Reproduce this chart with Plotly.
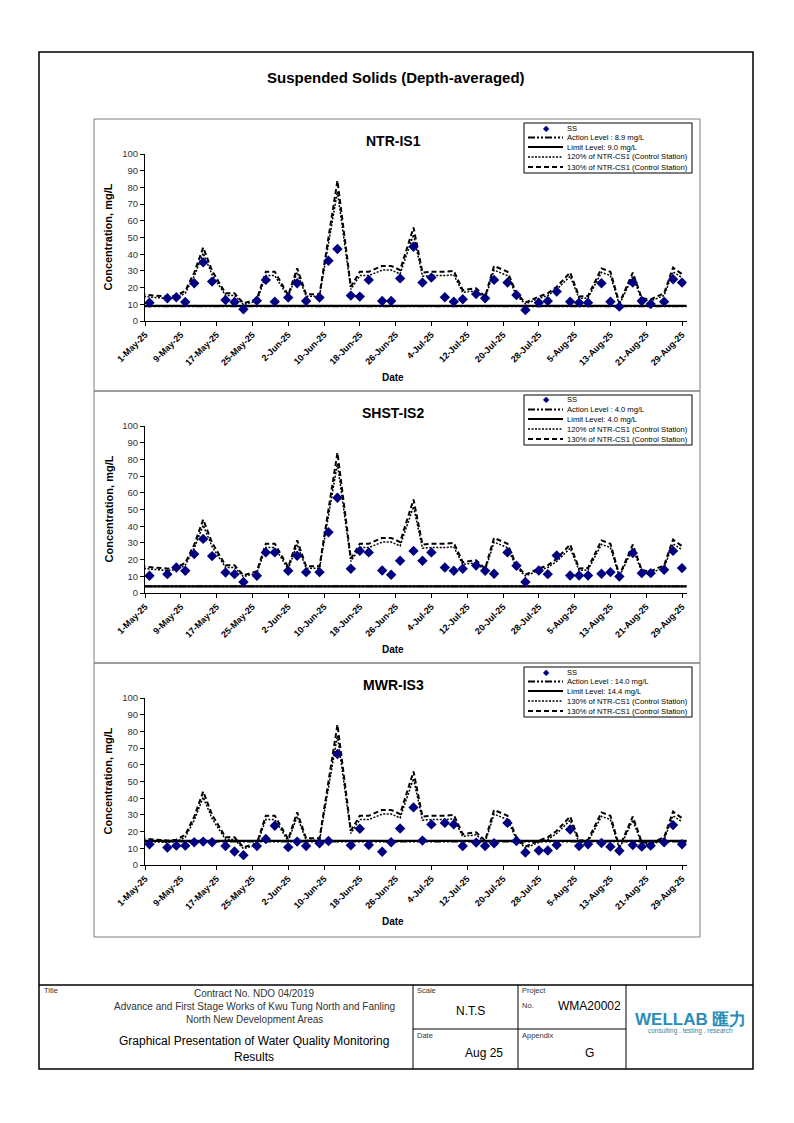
import plotly.graph_objects as go

FONT = "Arial, 'Liberation Sans', sans-serif"

# ---------------- data ----------------
dates = [
    "2025-05-02", "2025-05-06", "2025-05-08", "2025-05-10", "2025-05-12", "2025-05-14", "2025-05-16",
    "2025-05-19", "2025-05-21", "2025-05-23", "2025-05-26", "2025-05-28", "2025-05-30",
    "2025-06-02", "2025-06-04", "2025-06-06", "2025-06-09", "2025-06-11", "2025-06-13", "2025-06-16",
    "2025-06-18", "2025-06-20", "2025-06-23", "2025-06-25", "2025-06-27", "2025-06-30",
    "2025-07-02", "2025-07-04", "2025-07-07", "2025-07-09", "2025-07-11", "2025-07-14", "2025-07-16",
    "2025-07-18", "2025-07-21", "2025-07-23", "2025-07-25", "2025-07-28", "2025-07-30",
    "2025-08-01", "2025-08-04", "2025-08-06", "2025-08-08", "2025-08-11", "2025-08-13", "2025-08-15",
    "2025-08-18", "2025-08-20", "2025-08-22", "2025-08-25", "2025-08-27", "2025-08-29",
]
ctrl_dates = ["2025-04-30"] + dates

ss_ntr_is1 = [
    11.0, 13.6, 14.2, 11.4, 22.6, 35.1, 23.6, 12.6, 11.4, 7.0, 12.2, 24.6, 11.6,
    14.0, 22.6, 12.0, 14.0, 36.1, 43.1, 15.2, 14.6, 24.6, 12.0, 12.0, 25.5, 44.5,
    23.0, 26.0, 14.2, 11.6, 13.0, 16.2, 13.6, 24.6, 23.0, 15.6, 6.6, 11.0, 12.0,
    17.6, 11.6, 11.0, 11.0, 22.6, 11.6, 8.6, 23.0, 12.0, 10.2, 11.6, 25.0, 23.0,
]
ss_shst_is2 = [
    10.3, 11.3, 15.3, 13.3, 23.3, 32.4, 22.1, 12.3, 11.3, 6.6, 10.3, 24.3, 24.3,
    13.3, 22.3, 12.5, 12.5, 36.4, 57.0, 14.5, 25.2, 24.3, 13.5, 10.9, 19.3, 25.2,
    19.3, 24.3, 15.3, 13.3, 14.5, 16.5, 13.3, 11.5, 24.3, 16.3, 6.6, 13.5, 11.3,
    22.5, 10.5, 10.5, 10.5, 11.5, 12.5, 9.9, 23.9, 11.9, 11.9, 13.9, 25.2, 14.9,
]
ss_mwr_is3 = [
    12.4, 10.5, 11.6, 11.6, 13.6, 14.0, 13.6, 11.4, 8.1, 5.9, 11.4, 15.6, 23.5,
    10.7, 14.0, 11.4, 13.0, 14.4, 66.5, 11.8, 21.7, 12.0, 7.9, 13.6, 21.9, 34.5,
    14.6, 24.3, 25.2, 24.3, 11.4, 13.4, 11.4, 13.0, 25.2, 14.4, 7.5, 8.7, 8.7,
    12.0, 21.3, 11.4, 12.4, 13.2, 11.0, 8.5, 12.0, 11.0, 11.6, 13.6, 23.9, 12.4,
]
ctrl_120 = [
    14.8,
    14.4, 13.5, 14.0, 16.6, 26.8, 40.6, 27.7, 15.3, 15.3, 9.8, 12.0, 27.2, 27.2,
    14.3, 29.1, 14.8, 14.8, 46.2, 77.5, 18.9, 27.2, 27.2, 30.5, 30.5, 28.2, 51.7,
    26.8, 27.2, 27.2, 27.7, 17.1, 18.1, 13.5, 30.5, 27.2, 15.3, 10.2, 13.5, 15.3,
    18.9, 26.8, 13.5, 13.8, 29.1, 27.2, 9.8, 26.8, 12.6, 12.0, 15.3, 29.5, 25.8,
]
ctrl_130 = [
    16.0,
    15.6, 14.6, 15.2, 18.0, 29.0, 44.0, 30.0, 16.6, 16.6, 10.6, 13.0, 29.5, 29.5,
    15.5, 31.5, 16.0, 16.0, 50.0, 84.0, 20.5, 29.5, 29.5, 33.0, 33.0, 30.5, 56.0,
    29.0, 29.5, 29.5, 30.0, 18.5, 19.6, 14.6, 33.0, 29.5, 16.6, 11.0, 14.6, 16.6,
    20.5, 29.0, 14.6, 15.0, 31.5, 29.5, 10.6, 29.0, 13.6, 13.0, 16.6, 32.0, 28.0,
]

stations = ["NTR-IS1", "SHST-IS2", "MWR-IS3"]
ss_series = [ss_ntr_is1, ss_shst_is2, ss_mwr_is3]
action_levels = [8.9, 4.0, 14.0]
limit_levels = [9.0, 4.0, 14.4]
legend_labels = [
    ["SS", "Action Level : 8.9 mg/L", "Limit Level: 9.0 mg/L",
     "120% of NTR-CS1 (Control Station)", "130% of NTR-CS1 (Control Station)"],
    ["SS", "Action Level : 4.0 mg/L", "Limit Level: 4.0 mg/L",
     "120% of NTR-CS1 (Control Station)", "130% of NTR-CS1 (Control Station)"],
    ["SS", "Action Level : 14.0 mg/L", "Limit Level: 14.4 mg/L",
     "130% of NTR-CS1 (Control Station)", "130% of NTR-CS1 (Control Station)"],
]
x_range = ["2025-05-01", "2025-08-30"]
tick_start = "2025-05-01"
tick_days = 8
y_range = [0, 100]
y_step = 10

# ---------------- layout helpers ----------------
W, H = 794, 1123
def px(x):
    return x / W
def py(y):
    return 1 - y / H

SS_COLOR = "#000080"
fig = go.Figure()
shapes = []

def add_line(x0, y0, x1, y1, width=1.0, color="black", dash="solid"):
    shapes.append(dict(type="line", xref="paper", yref="paper",
                       x0=px(x0), y0=py(y0), x1=px(x1), y1=py(y1),
                       line=dict(color=color, width=width, dash=dash)))

def add_rect(x0, y0, x1, y1, width=1.0, color="black"):
    shapes.append(dict(type="rect", xref="paper", yref="paper",
                       x0=px(x0), y0=py(y1), x1=px(x1), y1=py(y0),
                       line=dict(color=color, width=width), fillcolor="rgba(0,0,0,0)"))

def add_text(x, y, s, size, bold=False, color="black", xanchor="center", yanchor="middle", angle=0):
    fig.add_annotation(x=px(x), y=py(y), xref="paper", yref="paper", text=s, showarrow=False,
                       xanchor=xanchor, yanchor=yanchor, textangle=angle,
                       font=dict(family=FONT, size=size, color=color,
                                 weight="bold" if bold else "normal"))

DASH_120 = "2px,1.5px"
DASH_130 = "5px,3px"
DASH_ACTION = "7px,2px,2px,2px,2px,2px"

plot_left, plot_right = 145, 686.5
plot_tops = [154, 426, 698]
plot_h = 167
panel_tops = [119, 391, 663]
panel_bottoms = [391, 663, 937]

for i in range(3):
    suffix = "" if i == 0 else str(i + 1)
    xa, ya = "x" + suffix, "y" + suffix
    top = plot_tops[i]

    fig.add_trace(go.Scatter(x=ctrl_dates, y=ctrl_120, mode="lines", name=legend_labels[i][3],
                             line=dict(color="black", width=1.5, dash=DASH_120),
                             xaxis=xa, yaxis=ya, showlegend=False, hoverinfo="skip"))
    fig.add_trace(go.Scatter(x=ctrl_dates, y=ctrl_130, mode="lines", name=legend_labels[i][4],
                             line=dict(color="black", width=2, dash=DASH_130),
                             xaxis=xa, yaxis=ya, showlegend=False, hoverinfo="skip"))
    fig.add_trace(go.Scatter(x=dates, y=ss_series[i], mode="markers", name="SS",
                             marker=dict(symbol="diamond", size=8, color=SS_COLOR,
                                         line=dict(width=0)),
                             xaxis=xa, yaxis=ya, showlegend=False))

    # constant action / limit levels across the full axis width
    shapes.append(dict(type="line", xref=xa + " domain", yref=ya, x0=0, x1=1,
                       y0=action_levels[i], y1=action_levels[i], layer="below",
                       line=dict(color="black", width=2, dash=DASH_ACTION)))
    shapes.append(dict(type="line", xref=xa + " domain", yref=ya, x0=0, x1=1,
                       y0=limit_levels[i], y1=limit_levels[i], layer="below",
                       line=dict(color="black", width=2.2)))

    fig.update_layout(**{
        "xaxis" + suffix: dict(
            domain=[px(plot_left), px(plot_right)], anchor=ya, type="date",
            range=x_range, tick0=tick_start, dtick=tick_days * 86400000,
            tickformat="%-d-%b-%y", tickangle=-45, automargin=False,
            tickfont=dict(family=FONT, size=9, color="black", weight="bold"),
            showline=True, linecolor="black", linewidth=1, ticks="outside",
            ticklen=4, tickcolor="black", showgrid=False, zeroline=False, fixedrange=True),
        "yaxis" + suffix: dict(
            domain=[py(top + plot_h), py(top)], anchor=xa, range=y_range,
            tick0=0, dtick=y_step, automargin=False,
            tickfont=dict(family=FONT, size=9.5, color="#333333"),
            showline=True, linecolor="black", linewidth=1, ticks="outside",
            ticklen=4, tickcolor="black", showgrid=False, zeroline=False, fixedrange=True),
    })

    # panel frame
    add_rect(94, panel_tops[i], 700, panel_bottoms[i], width=1, color="#7f7f7f")
    # titles
    add_text(393, top - 13, stations[i], 14, bold=True)
    add_text(108, top + plot_h / 2, "Concentration, mg/L", 11, bold=True, angle=-90)
    add_text(393, top + 223, "Date", 10, bold=True)

    # legend box (drawn manually for compact rows)
    lt = panel_tops[i] + 4
    add_rect(524, lt, 692, lt + 50, width=1, color="black")
    rows = [lt + 5, lt + 14.5, lt + 24, lt + 34, lt + 44]
    add_text(546, rows[0], "◆", 8, color=SS_COLOR)
    add_line(528, rows[1], 563, rows[1], width=2, dash=DASH_ACTION)
    add_line(528, rows[2], 563, rows[2], width=2)
    add_line(528, rows[3], 563, rows[3], width=1.5, dash=DASH_120)
    add_line(528, rows[4], 563, rows[4], width=2, dash=DASH_130)
    for r, lab in zip(rows, legend_labels[i]):
        add_text(565, r, lab, 7.6, xanchor="left")

# page frame and title
add_rect(39, 52, 753, 1069, width=1.5)
add_text(396, 77, "Suspended Solids (Depth-averaged)", 15, bold=True)

# title block
add_line(39, 985, 753, 985, width=1.5)
add_line(413, 985, 413, 1069, width=1)
add_line(518, 985, 518, 1069, width=1)
add_line(626, 985, 626, 1069, width=1)
add_line(413, 1029, 626, 1029, width=1)

add_text(42, 990, "Title", 7.5, xanchor="left", color="#333333")
add_text(254, 994, "Contract No. NDO 04/2019", 10, color="#333333")
add_text(254, 1006, "Advance and First Stage Works of Kwu Tung North and Fanling", 10, color="#333333")
add_text(254, 1019, "North New Development Areas", 10, color="#333333")
add_text(254, 1041, "Graphical Presentation of Water Quality Monitoring", 12)
add_text(254, 1057, "Results", 12)

add_text(415, 990, "Scale", 7.5, xanchor="left", color="#333333")
add_text(487, 1011, "N.T.S", 12, xanchor="right")
add_text(415, 1035, "Date", 7.5, xanchor="left", color="#333333")
add_text(505, 1053, "Aug 25", 12, xanchor="right")

add_text(520, 990, "Project", 7.5, xanchor="left", color="#333333")
add_text(520, 1005, "No.", 7.5, xanchor="left", color="#333333")
add_text(589, 1006, "WMA20002", 12)
add_text(520, 1035, "Appendix", 7.5, xanchor="left", color="#333333")
add_text(589, 1053, "G", 12)

add_text(690, 1019, "WELLAB 匯力", 17, bold=True, color="#2a8db8")
add_text(690, 1031, "consulting . testing . research", 6.5, color="#3a7f9a")

fig.update_layout(
    width=W, height=H, margin=dict(l=0, r=0, t=0, b=0, autoexpand=False),
    paper_bgcolor="white", plot_bgcolor="white",
    showlegend=False, shapes=shapes,
    font=dict(family=FONT, color="black"),
)

fig.write_html("out.html", config={"displayModeBar": False},
               post_script="document.body.style.margin='0px';")
